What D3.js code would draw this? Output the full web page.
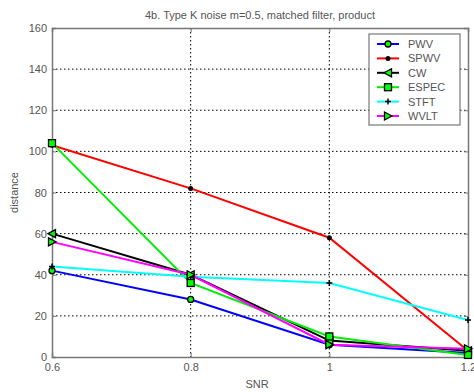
<!DOCTYPE html>
<html>
<head>
<meta charset="utf-8">
<script src="https://cdn.jsdelivr.net/npm/d3@7"></script>
<style>
  body { margin: 0; background: #fff; }
  text { font-family: Arial, "Liberation Sans", sans-serif; fill: #555; }
</style>
</head>
<body>
<div id="chart"></div>
<script>
// data
var snr = [0.6, 0.8, 1.0, 1.2];
var xTicks = [0.6, 0.8, 1, 1.2];
var yTicks = [0, 20, 40, 60, 80, 100, 120, 140, 160];
var names = ["PWV", "SPWV", "CW", "ESPEC", "STFT", "WVLT"];
var pwv   = [42, 28, 6, 2];
var spwv  = [103, 82, 58, 3];
var cw    = [60, 40, 8, 3];
var espec = [104, 36, 10, 1];
var stft  = [44, 39, 36, 18];
var wvlt  = [56, 40, 6, 4];

var seriesValues = [pwv, spwv, cw, espec, stft, wvlt];
var colors = ["#0000ff", "#ff0000", "#000000", "#00ee00", "#00ffff", "#ff00ff"];
var markers = ["circle", "dot", "tleft", "square", "plus", "tright"];

var margin = {top: 28, right: 6, bottom: 35, left: 52};
var W = 474, H = 392;
var width = W - margin.left - margin.right;
var height = H - margin.top - margin.bottom;

var svg = d3.select("#chart").append("svg")
    .attr("width", W)
    .attr("height", H);

var g = svg.append("g")
    .attr("transform", "translate(" + margin.left + "," + margin.top + ")");

var xScale = d3.scaleLinear().domain([0.6, 1.2]).range([0, width]);
var yScale = d3.scaleLinear().domain([0, 160]).range([height, 0]);

// grid
g.append("g").selectAll("line")
    .data(xTicks.slice(1, -1))
  .enter().append("line")
    .attr("x1", function(d) { return xScale(d); })
    .attr("x2", function(d) { return xScale(d); })
    .attr("y1", 0).attr("y2", height)
    .attr("stroke", "#000").attr("stroke-dasharray", "1.5,2.5");

g.append("g").selectAll("line")
    .data(yTicks.slice(1, -1))
  .enter().append("line")
    .attr("y1", function(d) { return yScale(d); })
    .attr("y2", function(d) { return yScale(d); })
    .attr("x1", 0).attr("x2", width)
    .attr("stroke", "#000").attr("stroke-dasharray", "1.5,2.5");

// axes
var xAxis = g.append("g")
    .attr("transform", "translate(0," + height + ")")
    .call(d3.axisBottom(xScale).tickValues(xTicks).tickSize(-4).tickPadding(6)
      .tickFormat(function(d) { return d3.format("")(d); }));
var yAxis = g.append("g")
    .call(d3.axisLeft(yScale).tickValues(yTicks).tickSize(-4).tickPadding(5));
var xTop = g.append("g")
    .call(d3.axisTop(xScale).tickValues(xTicks).tickSize(-4).tickFormat(""));
var yRight = g.append("g")
    .attr("transform", "translate(" + width + ",0)")
    .call(d3.axisRight(yScale).tickValues(yTicks).tickSize(-4).tickFormat(""));

[xAxis, yAxis, xTop, yRight].forEach(function(a) {
  a.select(".domain").attr("stroke", "#777").attr("stroke-width", 1.5);
  a.selectAll(".tick line").attr("stroke", "#777");
  a.selectAll(".tick text").attr("font-size", 11).attr("fill", "#555")
    .attr("font-family", "Arial, 'Liberation Sans', sans-serif");
});

// lines
var line = d3.line()
    .x(function(d, i) { return xScale(snr[i]); })
    .y(function(d) { return yScale(d); });

function drawMarker(sel, type, x, y) {
  if (type === "circle") {
    sel.append("circle").attr("cx", x).attr("cy", y).attr("r", 3)
      .attr("fill", "#00ff00").attr("stroke", "#000").attr("stroke-width", 1.3);
  } else if (type === "dot") {
    sel.append("circle").attr("cx", x).attr("cy", y).attr("r", 2.5)
      .attr("fill", "#000");
  } else if (type === "square") {
    sel.append("rect").attr("x", x - 3.5).attr("y", y - 3.5).attr("width", 7).attr("height", 7)
      .attr("fill", "#00ff00").attr("stroke", "#000").attr("stroke-width", 1.3);
  } else if (type === "plus") {
    sel.append("path").attr("d", "M" + (x - 3) + "," + y + "h6M" + x + "," + (y - 3) + "v6")
      .attr("stroke", "#000").attr("stroke-width", 1.5);
  } else if (type === "tleft") {
    sel.append("path")
      .attr("d", "M" + (x - 4) + "," + y + "L" + (x + 3.5) + "," + (y - 4) + "L" + (x + 3.5) + "," + (y + 4) + "Z")
      .attr("fill", "#00ff00").attr("stroke", "#000").attr("stroke-width", 1.3);
  } else if (type === "tright") {
    sel.append("path")
      .attr("d", "M" + (x + 4) + "," + y + "L" + (x - 3.5) + "," + (y - 4) + "L" + (x - 3.5) + "," + (y + 4) + "Z")
      .attr("fill", "#00ff00").attr("stroke", "#000").attr("stroke-width", 1.3);
  }
}

seriesValues.forEach(function(vals, k) {
  g.append("path")
      .datum(vals)
      .attr("fill", "none")
      .attr("stroke", colors[k])
      .attr("stroke-width", 2)
      .attr("d", line);
});
seriesValues.forEach(function(vals, k) {
  var mg = g.append("g");
  vals.forEach(function(v, i) {
    drawMarker(mg, markers[k], xScale(snr[i]), yScale(v));
  });
});

// title and labels
svg.append("text")
    .attr("x", margin.left + width / 2).attr("y", 19)
    .attr("text-anchor", "middle").attr("font-size", 11)
    .text("4b. Type K noise m=0.5, matched filter, product");
svg.append("text")
    .attr("x", margin.left + width / 2 - 3).attr("y", 388)
    .attr("text-anchor", "middle").attr("font-size", 11)
    .text("SNR");
svg.append("text")
    .attr("transform", "translate(18," + (margin.top + height / 2) + ") rotate(-90)")
    .attr("text-anchor", "middle").attr("font-size", 11)
    .text("distance");

// legend
var lg = svg.append("g");
lg.append("rect")
    .attr("x", 369).attr("y", 34).attr("width", 91).attr("height", 91)
    .attr("fill", "#fff").attr("stroke", "#777").attr("stroke-width", 1.2);
names.forEach(function(n, k) {
  var y = 44 + k * 14.4;
  lg.append("line").attr("x1", 377).attr("x2", 399).attr("y1", y).attr("y2", y)
    .attr("stroke", colors[k]).attr("stroke-width", 2);
  drawMarker(lg, markers[k], 388, y);
  lg.append("text").attr("x", 408).attr("y", y + 4).attr("font-size", 11).text(n);
});
</script>
</body>
</html>
